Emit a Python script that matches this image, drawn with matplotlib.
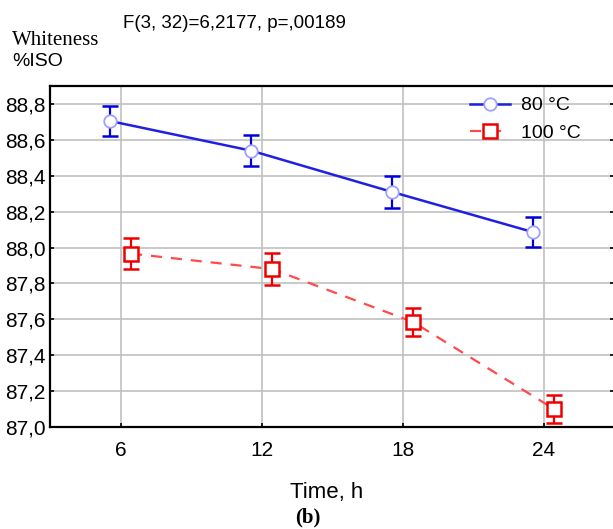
import numpy as np
import matplotlib.pyplot as plt

time_h = np.array([6, 12, 18, 24])
shift = 0.45

w80 = [88.705, 88.54, 88.31, 88.086]
e80 = [0.086, 0.087, 0.09, 0.085]
w100 = [87.966, 87.88, 87.585, 87.10]
e100 = [0.086, 0.089, 0.08, 0.08]

yticks = np.arange(87.0, 88.81, 0.2)
ylabels = [f'{v:.1f}'.replace('.', ',') for v in yticks]

plt.rcParams['font.family'] = ['Liberation Sans', 'DejaVu Sans']

fig = plt.figure(figsize=(6.13, 5.29), dpi=100)
ax = fig.add_axes([50 / 613, 102 / 529, 564 / 613, 341 / 529])

ax.plot(time_h - shift, w80, '-', color='#2020e0', lw=1.8,
        marker='o', ms=9, mfc='white', mec='#a0a0ff', mew=1.3,
        label='80 \u00b0C', zorder=3)
ax.errorbar(time_h - shift, w80, yerr=e80, fmt='none', ecolor='#0000dd',
            elinewidth=1.6, capsize=6, capthick=1.8, zorder=2)

ax.plot(time_h + shift, w100, color='#ff4a4a', lw=1.6, dashes=(5, 4),
        marker='s', ms=10, mfc='white', mec='#ee0000', mew=1.8,
        label='100 \u00b0C', zorder=3)
ax.errorbar(time_h + shift, w100, yerr=e100, fmt='none', ecolor='#ee0000',
            elinewidth=1.6, capsize=6, capthick=1.8, zorder=2)

ax.set_xlim(3, 27)
ax.set_ylim(87.0, 88.9)
ax.set_xticks(time_h)
ax.set_yticks(yticks)
ax.set_yticklabels(ylabels)
ax.grid(True, color='#c0c0c0', lw=1.2)
ax.set_axisbelow(True)
ax.tick_params(direction='in', length=3, width=1.2, labelsize=15,
               right=True, top=False)
ax.tick_params(axis='x', pad=10)
ax.tick_params(axis='y', pad=3)
for s in ax.spines.values():
    s.set_linewidth(1.6)

ax.set_xlabel('Time, h', fontsize=16)
ax.xaxis.set_label_coords(0.49, -0.16)

leg = ax.legend(loc='upper left', bbox_to_anchor=(0.725, 1.0), frameon=False,
                fontsize=14, handlelength=2.1, handletextpad=0.55,
                labelspacing=0.5, borderaxespad=0.15)

fig.text(123 / 613, 1 - 23 / 529, 'F(3, 32)=6,2177, p=,00189', fontsize=13.5,
         va='center', ha='left')
fig.text(12 / 613, 1 - 40 / 529, 'Whiteness', fontsize=15,
         family='Liberation Serif', va='center', ha='left')
fig.text(12 / 613, 1 - 61 / 529, '%ISO', fontsize=14, va='center', ha='left')
fig.text(308 / 613, 1 - 517 / 529, '(b)', fontsize=15, fontweight='bold',
         family='Liberation Serif', va='center', ha='center')

fig.savefig('out.png', dpi=100)
